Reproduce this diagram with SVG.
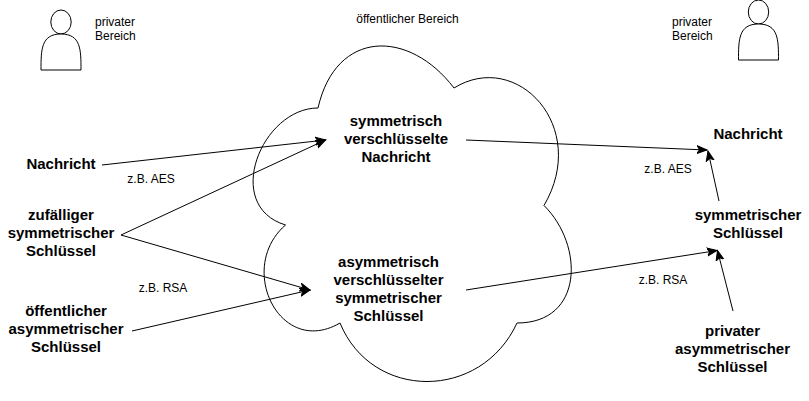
<svg xmlns="http://www.w3.org/2000/svg" width="809" height="401" viewBox="0 0 809 401">
<style>
text{font-family:"Liberation Sans",Arial,sans-serif;fill:#000}
.b{font-size:15px;font-weight:bold;text-anchor:middle}
.s{font-size:12px}
.m{text-anchor:middle}
.o{fill:#fff;stroke:#000;stroke-width:1}
.e{fill:none;stroke:#000;stroke-width:1;marker-end:url(#a)}
</style>
<defs>
<marker id="a" markerUnits="userSpaceOnUse" markerWidth="12" markerHeight="10" refX="10" refY="4" orient="auto" viewBox="0 0 12 8"><path d="M0 0L10 4L0 8L2.500 4Z" fill="#000" stroke="#000"/></marker>
<g id="p"><ellipse cx="20" cy="12" rx="10.200" ry="12" class="o"/><path d="M0 60C0 40 0 24 20 24C40 24 40 40 40 60Z" class="o"/></g>
</defs>
<g id="cloud"><path class="o" d="M318 108C262 108 222 205.500 285.500 225C236 268 280 358 340 323C372 401 481 401 517 323C584 323 584 245 544 205.500C590 127 517 49 454 88C409 29 336 29 318 108Z"/></g>
<g id="person-left"><use href="#p" x="41" y="10"/></g>
<g id="person-right"><use href="#p" x="738.500" y="0"/></g>
<g id="connectors">
<path class="e" d="M102 165L325.500 140"/>
<path class="e" d="M121 235L325.500 140"/>
<path class="e" d="M121 235L310 290"/>
<path class="e" d="M132 331L310 290"/>
<path class="e" d="M466 140L707 150"/>
<path class="e" d="M466 290L717 250.500"/>
<path class="e" d="M719 201L708 151"/>
<path class="e" d="M733 311L717.500 250.500"/>
</g>
<g id="label-private-left"><text class="s" x="95" y="26">privater</text><text class="s" x="95" y="40">Bereich</text></g>
<g id="label-private-right"><text class="s" x="672" y="26">privater</text><text class="s" x="672" y="40">Bereich</text></g>
<g id="label-public"><text class="s m" x="407.500" y="23">öffentlicher Bereich</text></g>
<g id="label-aes-left"><text class="s m" x="151" y="183">z.B. AES</text></g>
<g id="label-rsa-left"><text class="s m" x="163" y="292">z.B. RSA</text></g>
<g id="label-aes-right"><text class="s m" x="668" y="173">z.B. AES</text></g>
<g id="label-rsa-right"><text class="s m" x="663" y="284">z.B. RSA</text></g>
<g id="node-nachricht-left"><text class="b" x="61" y="169">Nachricht</text></g>
<g id="node-zufall"><text class="b" x="61" y="220">zufälliger</text><text class="b" x="61" y="238">symmetrischer</text><text class="b" x="61" y="256">Schlüssel</text></g>
<g id="node-public-key"><text class="b" x="66" y="316">öffentlicher</text><text class="b" x="66" y="334">asymmetrischer</text><text class="b" x="66" y="352">Schlüssel</text></g>
<g id="node-sym-msg"><text class="b" x="396" y="126">symmetrisch</text><text class="b" x="396" y="144">verschlüsselte</text><text class="b" x="396" y="162">Nachricht</text></g>
<g id="node-asym-key"><text class="b" x="388.500" y="267">asymmetrisch</text><text class="b" x="388.500" y="285">verschlüsselter</text><text class="b" x="388.500" y="303">symmetrischer</text><text class="b" x="388.500" y="321">Schlüssel</text></g>
<g id="node-nachricht-right"><text class="b" x="748" y="139">Nachricht</text></g>
<g id="node-sym-key"><text class="b" x="748" y="220">symmetrischer</text><text class="b" x="748" y="238">Schlüssel</text></g>
<g id="node-private-key"><text class="b" x="732.500" y="336">privater</text><text class="b" x="732.500" y="354">asymmetrischer</text><text class="b" x="732.500" y="372">Schlüssel</text></g>
</svg>
